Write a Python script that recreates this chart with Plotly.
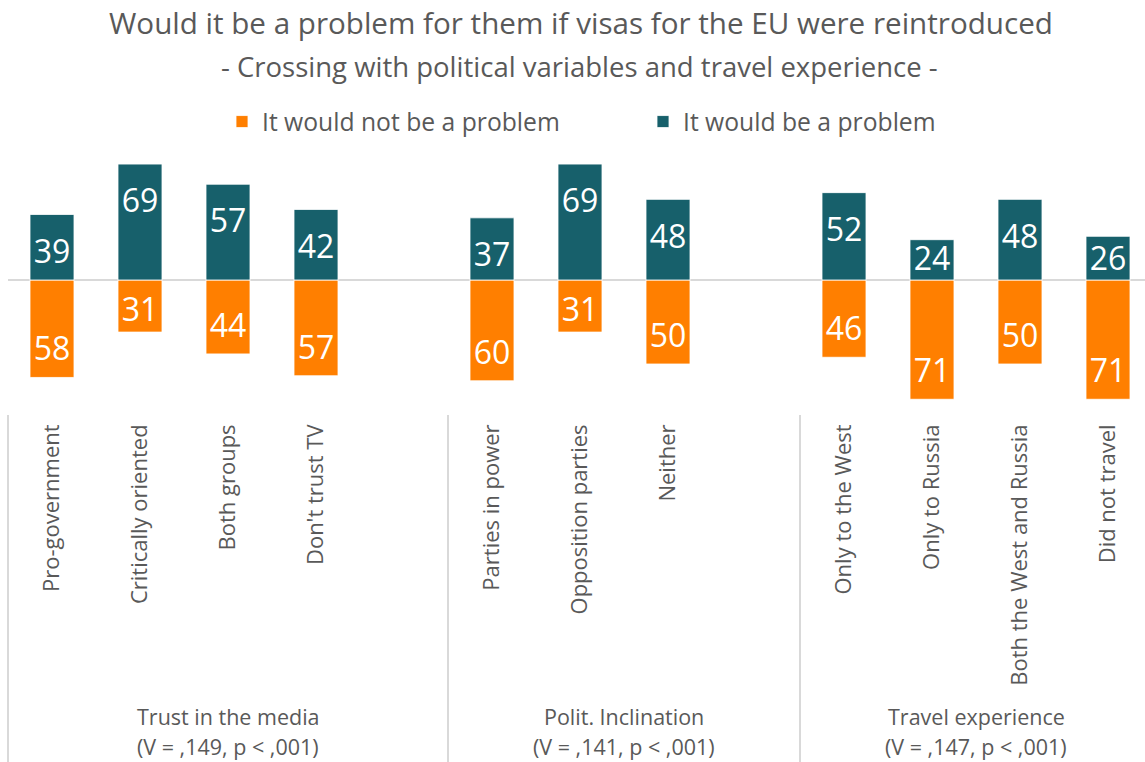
import plotly.graph_objects as go

# Survey data: share of respondents (%) by subgroup
group_titles = ["Trust in the media", "Polit. Inclination", "Travel experience"]
group_stats = ["(V = ,149, p < ,001)", "(V = ,141, p < ,001)", "(V = ,147, p < ,001)"]

media_cats = ["Pro-government", "Critically oriented", "Both groups", "Don't trust TV"]
media_not_problem = [58, 31, 44, 57]
media_problem = [39, 69, 57, 42]

polit_cats = ["Parties in power", "Opposition parties", "Neither"]
polit_not_problem = [60, 31, 50]
polit_problem = [37, 69, 48]

travel_cats = ["Only to the West", "Only to Russia", "Both the West and Russia", "Did not travel"]
travel_not_problem = [46, 71, 50, 71]
travel_problem = [52, 24, 48, 26]

series_names = ["It would not be a problem", "It would be a problem"]

ORANGE = "#FF7F00"
TEAL = "#17606B"
GREY_TXT = "#595959"
GRID = "#D9D9D9"
FONT = "Open Sans"

groups = [
    (media_cats, media_not_problem, media_problem),
    (polit_cats, polit_not_problem, polit_problem),
    (travel_cats, travel_not_problem, travel_problem),
]

# lay categories out on a numeric axis, one empty slot after every group but the last
xs, labels, not_prob, prob, spans = [], [], [], [], []
pos = 0
for gi, (cats, npv, pv) in enumerate(groups):
    start = pos
    for c, a, b in zip(cats, npv, pv):
        xs.append(pos)
        labels.append(c)
        not_prob.append(a)
        prob.append(b)
        pos += 1
    if gi < len(groups) - 1:
        pos += 1  # spacer slot
    spans.append((start - 0.5, pos - 0.5))

W, H = 1145, 762
ML, MR, MT, MB = 8, 0, 150, 352
plot_w = W - ML - MR
plot_h = H - MT - MB
slot_px = 88.0
x_range = [-0.5, -0.5 + plot_w / slot_px]
px_per_unit = 1.68
half = plot_h / 2 / px_per_unit
y_range = [-half, half]


def xpaper(v):
    return (v - x_range[0]) / (x_range[1] - x_range[0])


def ypaper_px(py):
    # pixel row from top of figure -> paper coordinate
    return (H - MB - py) / plot_h


fig = go.Figure()
bar_line = dict(color="rgba(255,255,255,0.8)", width=1)
fig.add_trace(go.Bar(
    x=xs, y=[-v for v in not_prob], name=series_names[0],
    marker=dict(color=ORANGE, line=bar_line), width=0.5,
    hoverinfo="skip",
))
fig.add_trace(go.Bar(
    x=xs, y=prob, name=series_names[1],
    marker=dict(color=TEAL, line=bar_line), width=0.5,
    hoverinfo="skip",
))

# value labels placed just inside the bar end
INSET = 19.4
MIN_CENTER = 15.2
SHIFT = -4.5
lab_up = [max(v - INSET, MIN_CENTER) + SHIFT for v in prob]
lab_dn = [-max(v - INSET, MIN_CENTER) + SHIFT for v in not_prob]
fig.add_trace(go.Scatter(
    x=xs + xs, y=lab_up + lab_dn, mode="text",
    text=[str(v) for v in prob] + [str(v) for v in not_prob],
    textposition="middle center",
    textfont=dict(family=FONT, size=32, color="white"),
    showlegend=False, hoverinfo="skip",
))

shapes = []
for b in [spans[0][0], spans[0][1], spans[1][1]]:
    shapes.append(dict(
        type="line", xref="paper", yref="paper",
        x0=xpaper(b), x1=xpaper(b), y0=ypaper_px(415), y1=ypaper_px(H + 2),
        line=dict(color=GRID, width=2), layer="below",
    ))

annotations = [
    dict(text="Would it be a problem for them if visas for the EU were reintroduced",
         xref="paper", yref="paper", x=(581 - ML) / plot_w, y=ypaper_px(22),
         xanchor="center", yanchor="middle", showarrow=False,
         font=dict(family=FONT, size=29.6, color=GREY_TXT)),
    dict(text="- Crossing with political variables and travel experience -",
         xref="paper", yref="paper", x=(579 - ML) / plot_w, y=ypaper_px(66),
         xanchor="center", yanchor="middle", showarrow=False,
         font=dict(family=FONT, size=27.5, color=GREY_TXT)),
]
for (a, b), t, s in zip(spans, group_titles, group_stats):
    cx = xpaper((a + b) / 2)
    annotations.append(dict(text=t, xref="paper", yref="paper", x=cx, y=ypaper_px(716),
                            xanchor="center", yanchor="middle", showarrow=False,
                            font=dict(family=FONT, size=21.5, color=GREY_TXT)))
    annotations.append(dict(text=s, xref="paper", yref="paper", x=cx, y=ypaper_px(746),
                            xanchor="center", yanchor="middle", showarrow=False,
                            font=dict(family=FONT, size=21.5, color=GREY_TXT)))

fig.update_layout(
    width=W, height=H,
    margin=dict(l=ML, r=MR, t=MT, b=MB, pad=0),
    paper_bgcolor="white", plot_bgcolor="white",
    barmode="relative",
    font=dict(family=FONT, color=GREY_TXT),
    showlegend=True,
    legend=dict(orientation="h", x=(222 - ML) / plot_w, xanchor="left",
                y=ypaper_px(122), yanchor="middle",
                entrywidth=376, entrywidthmode="pixels",
                font=dict(family=FONT, size=24.7, color=GREY_TXT),
                traceorder="normal", bgcolor="rgba(0,0,0,0)"),
    xaxis=dict(range=x_range, tickvals=xs, ticktext=labels, tickangle=-90,
               ticks="", showgrid=False, showline=False, zeroline=False,
               tickfont=dict(family=FONT, size=22, color=GREY_TXT),
               ticklabelstandoff=9, fixedrange=True),
    yaxis=dict(range=y_range, showticklabels=False, showgrid=False, ticks="",
               zeroline=True, zerolinecolor=GRID, zerolinewidth=2, fixedrange=True),
    shapes=shapes, annotations=annotations,
)

fig.write_html("out.html")
